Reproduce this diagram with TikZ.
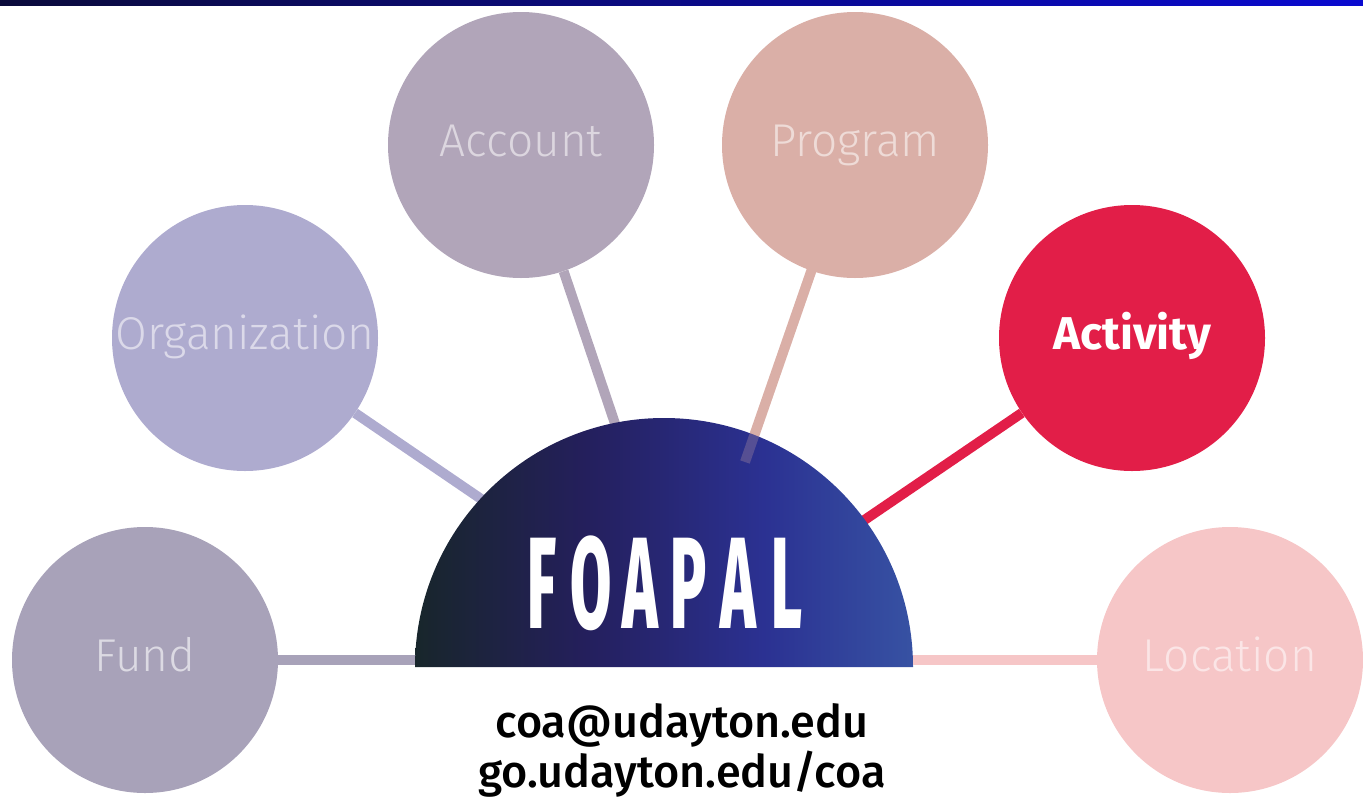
\documentclass[tikz,border=0pt]{standalone}
\usepackage{fontspec}
\setmainfont{Fira Sans}
\newfontfamily\lightfont{Fira Sans Light}
\newfontfamily\medfont{Fira Sans Medium}
\newfontfamily\heavyfont{Fira Sans ExtraBold}
\usepackage{graphicx}
\usetikzlibrary{positioning,backgrounds}
\definecolor{fundcol}{HTML}{A8A2B9}
\definecolor{orgcol}{HTML}{AEABCF}
\definecolor{acctcol}{HTML}{B1A5B9}
\definecolor{progcol}{HTML}{DAAFA7}
\definecolor{actvcol}{HTML}{E21E48}
\definecolor{loccol}{HTML}{F6C6C7}
\definecolor{hubA}{HTML}{18262B}
\definecolor{hubB}{HTML}{241F5C}
\definecolor{hubC}{HTML}{2B3192}
\definecolor{hubD}{HTML}{3752A3}
\definecolor{barL}{HTML}{0B0B3B}
\definecolor{barR}{HTML}{0A0AD0}
\pgfdeclarehorizontalshading{hubshade}{100bp}{color(0bp)=(hubA); color(25bp)=(hubA); color(42bp)=(hubB); color(60bp)=(hubC); color(75bp)=(hubD); color(100bp)=(hubD)}
\newcommand{\tallch}[1]{\scalebox{0.46}[1]{\fontsize{130}{130}\heavyfont #1}}

\begin{document}
\begin{tikzpicture}[x=1pt,y=-1pt,
  bubble/.style={circle,minimum size=266pt,inner sep=0pt,text height=32pt,text depth=9pt,
    font=\fontsize{46}{46}\lightfont},
  spoke/.style={line width=10pt}]
  \useasboundingbox (0,0) rectangle (1363,801);
  \shade[left color=barL,right color=barR] (0,0) rectangle (1363,5);

  \coordinate (hub) at (688,640);
  \coordinate (progend) at (745,462);

  \node (fund) [bubble,fill=fundcol,text=fundcol!40!white] at (145,660) {Fund};
  \node (org) [bubble,fill=orgcol,text=orgcol!45!white] at (245,338) {Organization};
  \node (acct) [bubble,fill=acctcol,text=acctcol!45!white] at (521,145) {Account};
  \node (prog) [bubble,fill=progcol,text=progcol!45!white] at (855,145) {Program};
  \node (actv) [bubble,fill=actvcol,text=white,font=\fontsize{46}{46}\selectfont\bfseries] at (1132,338) {Activity};
  \node (loc) [bubble,fill=loccol,text=loccol!45!white] at (1230,660) {Location};

  \begin{scope}[on background layer]
    \draw [spoke,fundcol] (fund) -- (fund -| hub);
    \draw [spoke,orgcol] (org) -- (hub);
    \draw [spoke,acctcol] (acct) -- (hub);
    \draw [spoke,progcol] (prog.center) -- (progend);
    \draw [spoke,actvcol] (actv) -- (hub);
    \draw [spoke,loccol] (loc) -- (loc -| hub);
  \end{scope}

  \shade [shading=hubshade] (415,667) arc [start angle=180,end angle=360,radius=249] -- cycle;
  \draw [spoke,progcol,opacity=0.25] (prog) -- (progend);

  \foreach \ch [count=\i] in {F,O,A,P,A,L}
    \node (l\i) [text=white,inner sep=0pt] at ({542+49*(\i-1)},583) {\tallch{\ch}};

  \node (contact) [align=center,font=\fontsize{45}{50}\medfont] at (682,750)
    {coa@udayton.edu\\go.udayton.edu/coa};
\end{tikzpicture}
\end{document}
